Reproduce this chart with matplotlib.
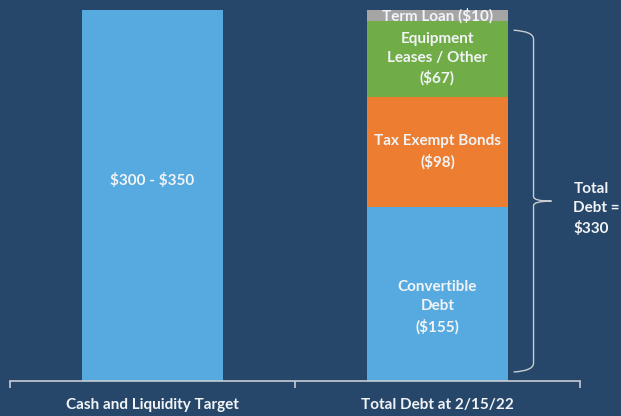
import matplotlib.pyplot as plt
from matplotlib.path import Path
from matplotlib.patches import PathPatch

# data
categories = ["Cash and Liquidity Target", "Total Debt at 2/15/22"]
target_value = 330
target_label = "$300 - $350"
debt_names = ["Convertible\nDebt", "Tax Exempt Bonds", "Equipment\nLeases / Other", "Term Loan"]
debt_values = [155, 98, 67, 10]
debt_colors = ["#56aadf", "#ed7d31", "#70ad47", "#a5a5a5"]
total_debt = sum(debt_values)

BG = "#264769"
TXT = "#f2f4f7"
FS = 11
plt.rcParams['font.family'] = ['Lato', 'DejaVu Sans']

fig = plt.figure(figsize=(6.21, 4.16), dpi=100)
fig.patch.set_facecolor(BG)
ax = fig.add_axes([10 / 621, 35 / 416, 570 / 621, 371 / 416])
ax.set_facecolor(BG)

width = 0.495
ax.bar(0, target_value, width=width, color="#56aadf")
ax.text(0, target_value * 0.54, target_label, ha="center", va="center",
        color=TXT, fontsize=FS, fontweight="bold", parse_math=False)

bottom = 0
for i, (name, val, col) in enumerate(zip(debt_names, debt_values, debt_colors)):
    ax.bar(1, val, width=width, bottom=bottom, color=col)
    if val >= 20:
        lbl = f"{name}\n(${val})"
    else:
        lbl = f"{name} (${val})"
    ymid = bottom + val / 2
    if i == 0:
        ymid -= 12  # bottom label sits a bit low in the original
    ax.text(1, ymid, lbl, ha="center", va="center", color=TXT,
            fontsize=FS, fontweight="bold", linespacing=1.45, parse_math=False)
    bottom += val

ax.set_xlim(-0.5, 1.5)
ax.set_ylim(0, total_debt)

# brace
x0, x1, xt = 1.267, 1.337, 1.40
ytop, ybot, ymid = 312, 8, 160
verts = [(x0, ytop), (x1, ytop - 1), (x1, ytop - 8),
         (x1, ymid + 4), (x1, ymid), (xt, ymid),
         (x1, ymid), (x1, ymid - 4), (x1, ybot + 8),
         (x1, ybot + 1), (x0, ybot)]
codes = [Path.MOVETO, Path.CURVE3, Path.CURVE3,
         Path.LINETO, Path.CURVE3, Path.CURVE3,
         Path.CURVE3, Path.CURVE3, Path.LINETO,
         Path.CURVE3, Path.CURVE3]
ax.add_patch(PathPatch(Path(verts, codes), fill=False, edgecolor="#c8cdd4",
                       lw=1.0, clip_on=False))
ax.text(1.477, ymid - 7, f"Total\nDebt =\n${total_debt}", ha="left", va="center",
        color=TXT, fontsize=FS, fontweight="bold", linespacing=1.45,
        clip_on=False, parse_math=False)

# axes styling
for s in ["top", "right", "left"]:
    ax.spines[s].set_visible(False)
ax.spines["bottom"].set_color("#c8cdd4")
ax.spines["bottom"].set_linewidth(1.2)
ax.set_yticks([])
ax.set_xticks([-0.5, 0.5, 1.5])
ax.set_xticklabels([])
ax.tick_params(axis="x", direction="out", length=5, width=1.2, color="#c8cdd4")
for i, c in enumerate(categories):
    ax.text(i, -15, c, ha="center", va="top", color=TXT, fontsize=FS,
            fontweight="bold", parse_math=False)

fig.savefig("out.png", dpi=100, facecolor=BG)
